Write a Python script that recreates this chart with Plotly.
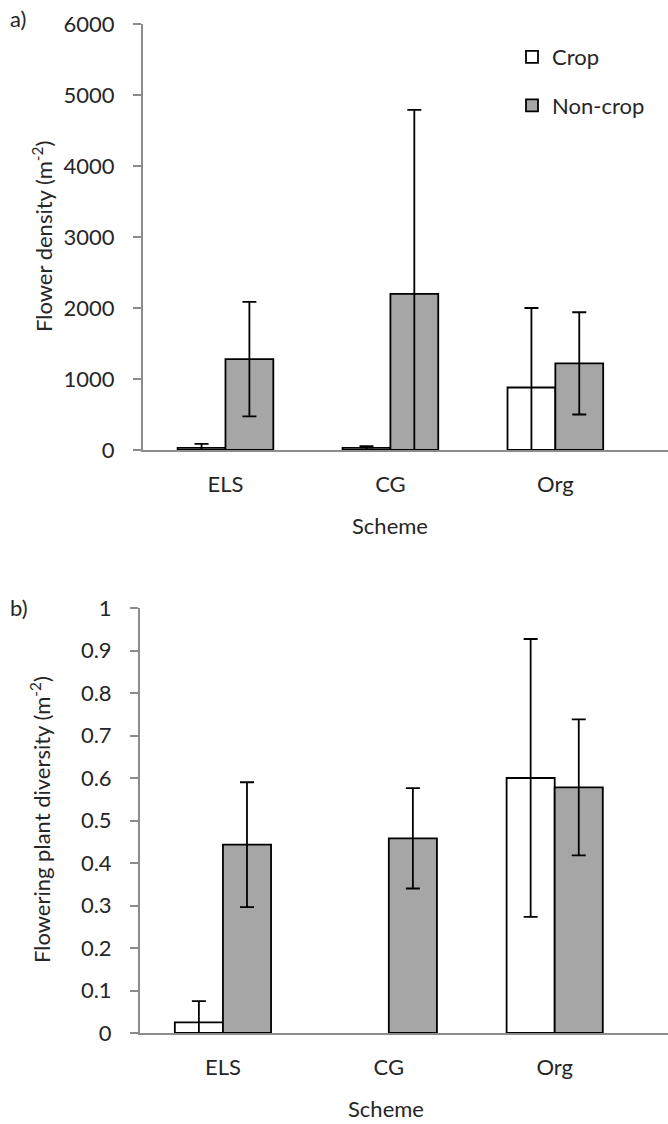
import plotly.graph_objects as go

W, H = 668, 1124

categories = ["ELS", "CG", "Org"]
series_names = ["Crop", "Non-crop"]

# Panel a: flower density (m-2)
density_crop = [30, 30, 880]
density_crop_err = [55, 25, 1120]
density_noncrop = [1280, 2200, 1220]
density_noncrop_err = [805, 2590, 720]

# Panel b: flowering plant diversity (m-2)
diversity_crop = [0.025, None, 0.60]
diversity_crop_err = [0.05, 0, 0.327]
diversity_noncrop = [0.443, 0.458, 0.578]
diversity_noncrop_err = [0.147, 0.118, 0.16]

y_ticks_a = [0, 1000, 2000, 3000, 4000, 5000, 6000]
y_ticks_b = [0, 0.1, 0.2, 0.3, 0.4, 0.5, 0.6, 0.7, 0.8, 0.9, 1]

FONT = "Lato"
TXT = "#262626"
AX = "#8c8c8c"
GRAY = "#a6a6a6"


def px_x(p):
    return p / W


def px_y(p):
    return 1 - p / H


fig = go.Figure()


def add_bars(vals, errs, fill, name, xa, ya, showlegend, group):
    fig.add_trace(go.Bar(
        x=categories, y=vals, name=name,
        marker=dict(color=fill, line=dict(color="black", width=1.8)),
        error_y=dict(type="data", array=errs, symmetric=True, color="black", thickness=1.8, width=7),
        xaxis=xa, yaxis=ya, showlegend=showlegend, legendgroup=group,
    ))


add_bars(density_crop, density_crop_err, "white", series_names[0], "x", "y", True, "g1")
add_bars(density_noncrop, density_noncrop_err, GRAY, series_names[1], "x", "y", True, "g2")
add_bars(diversity_crop, diversity_crop_err, "white", series_names[0], "x2", "y2", False, "g1")
add_bars(diversity_noncrop, diversity_noncrop_err, GRAY, series_names[1], "x2", "y2", False, "g2")

xcommon = dict(
    type="category", range=[-0.5, 2.683], showline=True, linecolor=AX, linewidth=2,
    ticks="", showgrid=False, zeroline=False, automargin=False,
    tickfont=dict(family=FONT, size=22, color=TXT), ticklabelstandoff=14,
)
ycommon = dict(
    showline=True, linecolor=AX, linewidth=2, ticks="outside", ticklen=8,
    tickcolor=AX, tickwidth=2, showgrid=False, zeroline=False, automargin=False,
    tickfont=dict(family=FONT, size=22, color=TXT), ticklabelstandoff=14,
)

fig.update_layout(
    width=W, height=H,
    margin=dict(l=0, r=0, t=0, b=0, autoexpand=False),
    paper_bgcolor="white", plot_bgcolor="white",
    barmode="group", bargap=0.42, bargroupgap=0,
    font=dict(family=FONT, size=22, color=TXT),
    xaxis=dict(domain=[px_x(143), 1], anchor="y", **xcommon),
    yaxis=dict(domain=[px_y(450), px_y(24)], anchor="x", range=[0, 6000],
               tickvals=y_ticks_a, tickformat="d", **ycommon),
    xaxis2=dict(domain=[px_x(140), 1], anchor="y2", **xcommon),
    yaxis2=dict(domain=[px_y(1033), px_y(608)], anchor="x2", range=[0, 1],
                tickvals=y_ticks_b, **ycommon),
    legend=dict(
        x=px_x(512), y=px_y(36), xanchor="left", yanchor="top",
        traceorder="grouped", tracegroupgap=17,
        font=dict(family=FONT, size=22, color=TXT), bgcolor="rgba(0,0,0,0)",
    ),
)

annots = [
    dict(text="a)", x=px_x(8), y=px_y(18), xanchor="left", yanchor="middle"),
    dict(text="b)", x=px_x(8), y=px_y(607), xanchor="left", yanchor="middle"),
    dict(text="Scheme", x=px_x(390), y=px_y(525), xanchor="center", yanchor="middle"),
    dict(text="Scheme", x=px_x(386), y=px_y(1108), xanchor="center", yanchor="middle"),
    dict(text="Flower density (m<sup>-2</sup>)", x=px_x(42), y=px_y(237),
         xanchor="center", yanchor="middle", textangle=-90),
    dict(text="Flowering plant diversity (m<sup>-2</sup>)", x=px_x(40), y=px_y(820),
         xanchor="center", yanchor="middle", textangle=-90),
]
for a in annots:
    fig.add_annotation(xref="paper", yref="paper", showarrow=False,
                       font=dict(family=FONT, size=22, color=TXT), **a)

fig.write_html(
    "out.html",
    config={"displayModeBar": False},
    post_script="document.body.style.margin='0';document.body.style.overflow='hidden';",
)
